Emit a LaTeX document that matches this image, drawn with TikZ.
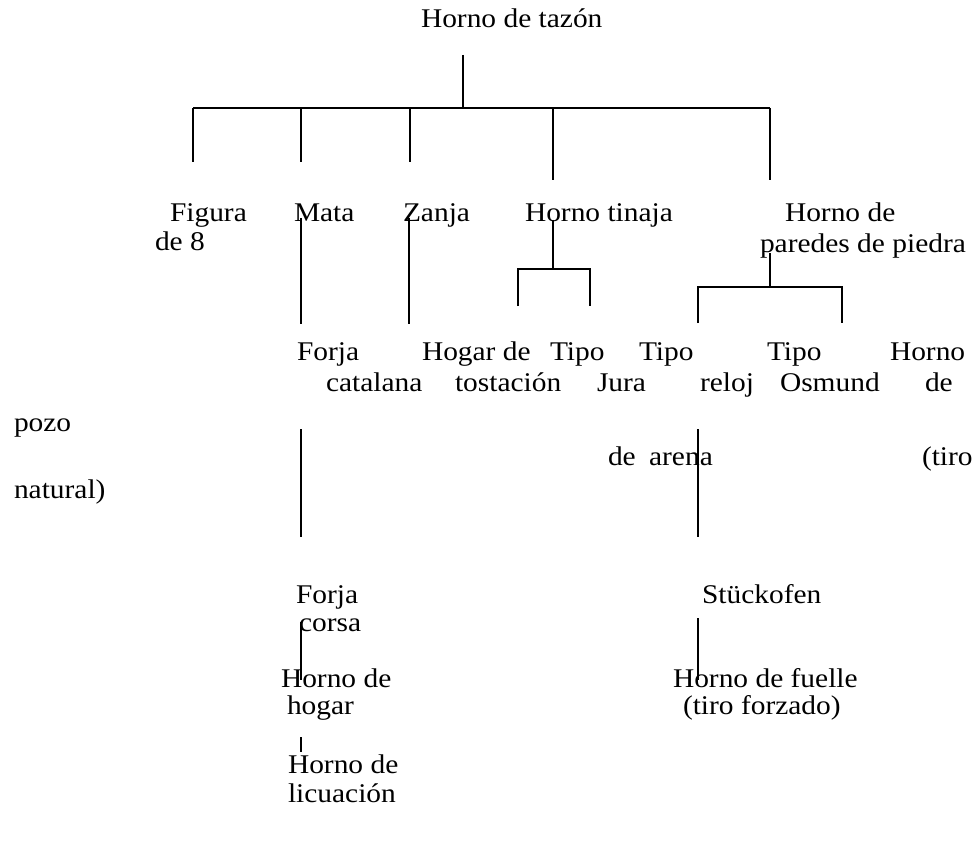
\documentclass[tikz,border=0pt]{standalone}
\usepackage{fontspec}
\setmainfont[FakeStretch=1.09]{Liberation Serif}
\begin{document}
\begin{tikzpicture}[x=1pt,y=-1pt,
  lbl/.style={anchor=base west, inner sep=0pt, outer sep=0pt, font=\fontsize{27}{30}\selectfont},
  conn/.style={line width=1.3pt, line cap=butt}]
\useasboundingbox (0,0) rectangle (975,853);
% ---- labels ----
\node[lbl] (root) at (421,28) {Horno de tazón};
\node[lbl] (fig1) at (170,222) {Figura};
\node[lbl] (fig2) at (155,251) {de 8};
\node[lbl] (mata) at (294,222) {Mata};
\node[lbl] (zanja) at (403,222) {Zanja};
\node[lbl] (tinaja) at (525,222) {Horno tinaja};
\node[lbl] (pared1) at (785,222) {Horno de};
\node[lbl] (pared2) at (760,253) {paredes de piedra};
\node[lbl] (cat1) at (297,360) {Forja};
\node[lbl] (cat2) at (326,391) {catalana};
\node[lbl] (tos1) at (422,360) {Hogar de};
\node[lbl] (tos2) at (455,391) {tostación};
\node[lbl] (jura1) at (550,360) {Tipo};
\node[lbl] (jura2) at (597,391) {Jura};
\node[lbl] (rel1) at (639,360) {Tipo};
\node[lbl] (rel2) at (700,391) {reloj};
\node[lbl] (osm1) at (767,360) {Tipo};
\node[lbl] (osm2) at (780,391) {Osmund};
\node[lbl] (pozo1) at (890,360) {Horno};
\node[lbl] (pozo2) at (925,391) {de};
\node[lbl] (pozo3) at (14,431) {pozo};
\node[lbl] (rel3) at (608,465) {de\hspace{6pt} arena};
\node[lbl] (pozo4) at (922,465) {(tiro};
\node[lbl] (pozo5) at (14,498) {natural)};
\node[lbl] (cor1) at (296,603) {Forja};
\node[lbl] (cor2) at (299,631) {corsa};
\node[lbl] (stk) at (702,603) {Stückofen};
\node[lbl] (hog1) at (281,687) {Horno de};
\node[lbl] (hog2) at (287,714) {hogar};
\node[lbl] (fue1) at (673,687) {Horno de fuelle};
\node[lbl] (fue2) at (683,714) {(tiro forzado)};
\node[lbl] (lic1) at (288,773) {Horno de};
\node[lbl] (lic2) at (288,802) {licuación};
% ---- connector points ----
\coordinate (r0) at (463,55);   \coordinate (r1) at (463,108);
\coordinate (bL) at (193,108);  \coordinate (bR) at (770,108);
\coordinate (a0) at (193,108);  \coordinate (a1) at (193,162);
\coordinate (m0) at (301,108);  \coordinate (m1) at (301,162);
\coordinate (z0) at (410,108);  \coordinate (z1) at (410,162);
\coordinate (t0) at (553,108);  \coordinate (t1) at (553,180);
\coordinate (p0) at (770,108);  \coordinate (p1) at (770,180);
\coordinate (mA) at (301,218);  \coordinate (mB) at (301,324);
\coordinate (zA) at (409,218);  \coordinate (zB) at (409,324);
\coordinate (tA) at (553,220);  \coordinate (tB) at (553,269);
\coordinate (tL) at (518,269);  \coordinate (tR) at (590,269);
\coordinate (tL1) at (518,306); \coordinate (tR1) at (590,306);
\coordinate (pA) at (770,253);  \coordinate (pB) at (770,287);
\coordinate (pL) at (698,287);  \coordinate (pR) at (842,287);
\coordinate (pL1) at (698,323); \coordinate (pR1) at (842,323);
\coordinate (fA) at (301,429);  \coordinate (fB) at (301,537);
\coordinate (rA) at (698,429);  \coordinate (rB) at (698,537);
\coordinate (cA) at (301,622);  \coordinate (cB) at (301,680);
\coordinate (hA) at (301,737);  \coordinate (hB) at (301,752);
\coordinate (sA) at (698,618);  \coordinate (sB) at (698,680);
% ---- connectors ----
\draw[conn] (r0) -- (r1);
\draw[conn] (bL) -- (bR);
\draw[conn] (a0) -- (a1);
\draw[conn] (m0) -- (m1);
\draw[conn] (z0) -- (z1);
\draw[conn] (t0) -- (t1);
\draw[conn] (p0) -- (p1);
\draw[conn] (mA) -- (mB);
\draw[conn] (zA) -- (zB);
\draw[conn] (tA) -- (tB);
\draw[conn] (tL1) -- (tL) -- (tR) -- (tR1);
\draw[conn] (pA) -- (pB);
\draw[conn] (pL1) -- (pL) -- (pR) -- (pR1);
\draw[conn] (fA) -- (fB);
\draw[conn] (rA) -- (rB);
\draw[conn] (cA) -- (cB);
\draw[conn] (hA) -- (hB);
\draw[conn] (sA) -- (sB);
\end{tikzpicture}
\end{document}
